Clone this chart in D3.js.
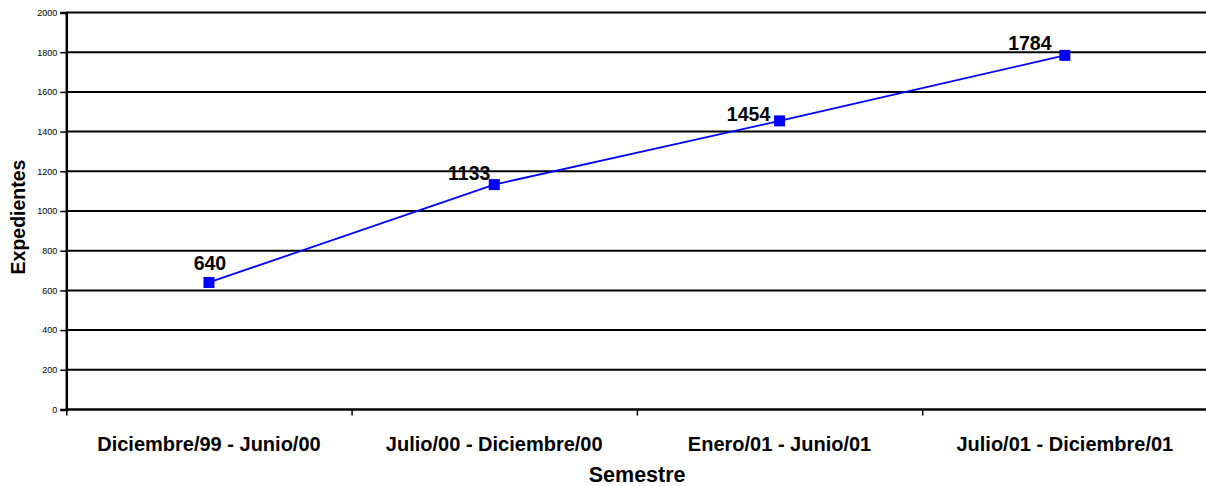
<!DOCTYPE html>
<html>
<head>
<meta charset="utf-8">
<script src="https://cdn.jsdelivr.net/npm/d3@7"></script>
<style>
  html, body { margin: 0; padding: 0; background: #fff; }
  svg { display: block; font-family: "Liberation Sans", Arial, sans-serif; }
</style>
</head>
<body>
<svg id="chart" width="1206" height="486"></svg>
<script>
// Expedientes por semestre
const semestres = [
  "Diciembre/99 - Junio/00",
  "Julio/00 - Diciembre/00",
  "Enero/01 - Junio/01",
  "Julio/01 - Diciembre/01"
];
const expedientes = [640, 1133, 1454, 1784];
const yTicks = [0, 200, 400, 600, 800, 1000, 1200, 1400, 1600, 1800, 2000];

// label placement relative to each marker (px)
const labelDx = [1, -25, -31, -35];
const labelDy = [-12, -5, 0, -5];

const svg = d3.select("#chart");
const plotLeft = 66.3, plotRight = 1207.5, plotTop = 12.5, plotBottom = 409.5;

const y = d3.scaleLinear().domain([0, 2000]).range([plotBottom, plotTop]);
const xBand = d3.scaleBand().domain(semestres).range([plotLeft, plotRight]).padding(0);
const xEdge = d3.scaleLinear().domain([0, semestres.length]).range([plotLeft, plotRight]);

// horizontal gridlines
svg.append("g")
  .selectAll("line")
  .data(yTicks.filter(d => d > 0))
  .join("line")
  .attr("x1", plotLeft).attr("x2", plotRight)
  .attr("y1", d => y(d)).attr("y2", d => y(d))
  .attr("stroke", "#000").attr("stroke-width", 2);

// y axis
const yAxis = svg.append("g")
  .attr("transform", `translate(${plotLeft},0)`)
  .call(d3.axisLeft(y).tickValues(yTicks).tickSize(6).tickPadding(3).tickFormat(d3.format("d")));
yAxis.select(".domain").attr("stroke", "#000").attr("stroke-width", 2.5);
yAxis.selectAll(".tick line").attr("stroke", "#000").attr("stroke-width", 1.5);
yAxis.selectAll(".tick text")
  .attr("font-family", "Liberation Sans, Arial, sans-serif")
  .attr("font-size", 9).attr("fill", "#000");

// x axis with ticks at category boundaries
const xAxis = svg.append("g")
  .attr("transform", `translate(0,${plotBottom})`)
  .call(d3.axisBottom(xEdge).tickValues(d3.range(semestres.length + 1)).tickSize(6).tickFormat(""));
xAxis.select(".domain").attr("stroke", "#000").attr("stroke-width", 2.5)
  .attr("d", `M${plotLeft},0H${plotRight}`);
xAxis.selectAll(".tick line").attr("stroke", "#000").attr("stroke-width", 1.5);

// category labels
svg.append("g")
  .selectAll("text")
  .data(semestres)
  .join("text")
  .attr("x", d => xBand(d) + xBand.bandwidth() / 2)
  .attr("y", 451)
  .attr("text-anchor", "middle")
  .attr("font-size", 20).attr("font-weight", "bold").attr("fill", "#000")
  .text(d => d);

// axis titles
svg.append("text")
  .attr("x", (plotLeft + 1206) / 2 + 1).attr("y", 482)
  .attr("text-anchor", "middle")
  .attr("font-size", 21.5).attr("font-weight", "bold").attr("fill", "#000")
  .text("Semestre");

svg.append("text")
  .attr("transform", "translate(25,217) rotate(-90)")
  .attr("text-anchor", "middle")
  .attr("font-size", 19.5).attr("font-weight", "bold").attr("fill", "#000")
  .text("Expedientes");

// series line
const cx = d => xBand(d) + xBand.bandwidth() / 2;
const line = d3.line()
  .x((d, i) => cx(semestres[i]))
  .y(d => y(d));

svg.append("path")
  .datum(expedientes)
  .attr("d", line)
  .attr("fill", "none")
  .attr("stroke", "#0000FF")
  .attr("stroke-width", 1.8);

// square markers
const ms = 11;
svg.append("g")
  .selectAll("rect")
  .data(expedientes)
  .join("rect")
  .attr("x", (d, i) => cx(semestres[i]) - ms / 2)
  .attr("y", d => y(d) - ms / 2)
  .attr("width", ms).attr("height", ms)
  .attr("fill", "#0000FF");

// value labels
svg.append("g")
  .selectAll("text")
  .data(expedientes)
  .join("text")
  .attr("x", (d, i) => cx(semestres[i]) + labelDx[i])
  .attr("y", (d, i) => y(d) + labelDy[i])
  .attr("text-anchor", "middle")
  .attr("font-size", 19.5).attr("font-weight", "bold").attr("fill", "#000")
  .text(d => d);
</script>
</body>
</html>
